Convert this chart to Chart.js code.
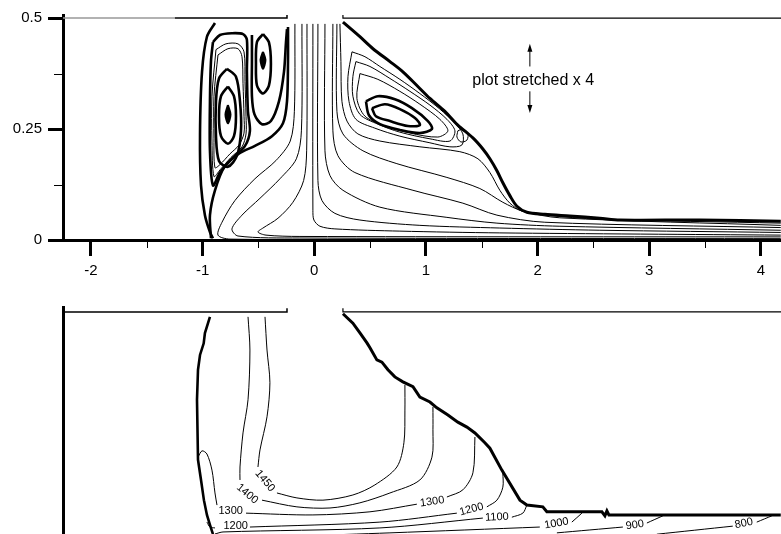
<!DOCTYPE html>
<html>
<head>
<meta charset="utf-8">
<script src="https://cdn.jsdelivr.net/npm/chart.js@4.4.0/dist/chart.umd.min.js"></script>
<style>
  body { margin: 0; background: #fff; overflow: hidden; width: 781px; height: 534px; position: relative; }
  #topChart { position: absolute; left: 0; top: 0; }
  #botChart { position: absolute; left: 0; top: 290px; }
</style>
</head>
<body>
<canvas id="topChart" width="781" height="290"></canvas>
<canvas id="botChart" width="781" height="260"></canvas>
<script>
// axis range (x = axial position, y = radial position, plot stretched x 4)
var xRange = [-2.25, 4.18];
var xMinor = [-1.5, -0.5, 0.5, 1.5, 2.5, 3.5];
var yMinor = [0.125, 0.375];

// walls (y = 0.5) with the jet opening between -0.25 and 0.25
var wallGrey = [[-2.25, 0.5], [-1.25, 0.5]];
var wallLeft = [[-1.25, 0.5], [-0.244, 0.5], [-0.244, 0.508]];
var wallRight = [[0.257, 0.508], [0.257, 0.5], [4.18, 0.5]];
var wallLeftBot = [[-2.25, 0.5], [-0.244, 0.5], [-0.244, 0.508]];

// ---- top panel: streamlines ----
var outerLeft = [[-0.889,0.489],[-0.961,0.458],[-1.005,0.379],[-1.023,0.239],[-1.014,0.123],[-0.979,0.056],[-0.934,0.018],[-0.907,0.004]];
var eddyOuter = [[-0.907,0.446],[-0.844,0.462],[-0.737,0.466],[-0.638,0.464],[-0.603,0.451],[-0.603,0.379],[-0.594,0.290],[-0.576,0.246],[-0.620,0.212],[-0.737,0.183],[-0.844,0.152],[-0.907,0.123],[-0.934,0.201],[-0.934,0.3125],[-0.925,0.402],[-0.907,0.446]];
var bundle1 = [[-0.880,0.429],[-0.791,0.442],[-0.683,0.442],[-0.629,0.424],[-0.620,0.357],[-0.611,0.279],[-0.611,0.239],[-0.647,0.210],[-0.746,0.186],[-0.844,0.158],[-0.898,0.143],[-0.916,0.223],[-0.916,0.324],[-0.880,0.429]];
var bundle2 = [[-0.862,0.417],[-0.773,0.431],[-0.683,0.431],[-0.647,0.413],[-0.638,0.353],[-0.629,0.279],[-0.629,0.241],[-0.674,0.214],[-0.755,0.194],[-0.844,0.170],[-0.889,0.163],[-0.898,0.228],[-0.898,0.324],[-0.862,0.417]];
var loop2 = [[-0.782,0.386],[-0.701,0.368],[-0.665,0.3125],[-0.656,0.246],[-0.692,0.190],[-0.773,0.165],[-0.853,0.178],[-0.880,0.234],[-0.880,0.3125],[-0.853,0.364],[-0.782,0.386]];
var loop3 = [[-0.773,0.346],[-0.719,0.324],[-0.701,0.279],[-0.719,0.234],[-0.773,0.217],[-0.835,0.234],[-0.853,0.279],[-0.835,0.324],[-0.773,0.346]];
var dotBig = [[-0.773,0.304],[-0.750,0.283],[-0.773,0.263],[-0.795,0.283],[-0.773,0.304]];
var uCurve = [[-0.558,0.462],[-0.558,0.402],[-0.558,0.324],[-0.535,0.283],[-0.468,0.261],[-0.388,0.268],[-0.316,0.3125],[-0.271,0.379],[-0.253,0.446],[-0.244,0.475]];
var smallRing = [[-0.459,0.464],[-0.406,0.446],[-0.388,0.397],[-0.406,0.348],[-0.459,0.330],[-0.513,0.348],[-0.522,0.397],[-0.513,0.446],[-0.459,0.464]];
var dotSmall = [[-0.459,0.424],[-0.437,0.406],[-0.459,0.386],[-0.481,0.406],[-0.459,0.424]];
var separatrix = [[-0.235,0.480],[-0.235,0.402],[-0.244,0.3125],[-0.280,0.263],[-0.379,0.234],[-0.531,0.212],[-0.665,0.196],[-0.799,0.167],[-0.889,0.112],[-0.934,0.056],[-0.925,0.004]];

var lineL3 = [[-0.173,0.487],[-0.178,0.290],[-0.215,0.223],[-0.343,0.179],[-0.531,0.138],[-0.710,0.089],[-0.826,0.040],[-0.862,0.011],[-0.755,0.002],[0.767,0.001],[4.178,0.001]];
var lineL2 = [[-0.110,0.487],[-0.115,0.246],[-0.160,0.183],[-0.307,0.138],[-0.486,0.094],[-0.647,0.056],[-0.737,0.025],[-0.683,0.009],[-0.128,0.0045],[4.178,0.003]];
var lineL1 = [[-0.065,0.487],[-0.068,0.201],[-0.095,0.134],[-0.191,0.085],[-0.325,0.049],[-0.459,0.027],[-0.504,0.018],[-0.432,0.011],[-0.128,0.008],[4.178,0.007]];
var lineC = [[-0.012,0.487],[-0.012,0.067],[-0.003,0.045],[0.051,0.031],[0.185,0.025],[0.767,0.020],[1.662,0.016],[4.178,0.011]];
var lineR5 = [[0.033,0.487],[0.033,0.134],[0.069,0.089],[0.185,0.060],[0.409,0.045],[0.946,0.033],[1.662,0.027],[2.558,0.022],[4.178,0.017]];
var lineR4 = [[0.096,0.487],[0.096,0.201],[0.141,0.145],[0.257,0.112],[0.588,0.074],[1.188,0.051],[1.636,0.038],[2.200,0.031],[4.178,0.022]];
var lineR3 = [[0.167,0.487],[0.167,0.246],[0.212,0.190],[0.364,0.152],[0.884,0.112],[1.331,0.083],[1.636,0.056],[2.065,0.040],[4.178,0.028]];
var lineR2 = [[0.203,0.487],[0.203,0.290],[0.257,0.239],[0.436,0.201],[0.740,0.172],[1.188,0.141],[1.483,0.116],[1.689,0.085],[1.868,0.065],[2.200,0.050],[4.178,0.033]];
var lineR1 = [[0.230,0.487],[0.239,0.402],[0.248,0.3125],[0.293,0.268],[0.391,0.239],[0.588,0.223],[0.946,0.210],[1.304,0.199],[1.466,0.183],[1.573,0.152],[1.662,0.112],[1.752,0.083],[1.859,0.065],[2.065,0.056],[2.558,0.047],[4.178,0.038]];

var flameTop = [[0.257,0.491],[0.409,0.458],[0.526,0.431],[0.678,0.402],[0.794,0.379],[0.928,0.346],[1.036,0.319],[1.170,0.290],[1.286,0.259],[1.421,0.230],[1.510,0.205],[1.573,0.183],[1.636,0.156],[1.689,0.129],[1.752,0.100],[1.815,0.076],[1.904,0.0625],[2.065,0.058],[2.289,0.054],[2.558,0.049],[2.737,0.045],[3.453,0.045],[4.178,0.042]];

var eddyR1 = [[0.338,0.424],[0.454,0.413],[0.588,0.391],[0.767,0.362],[0.946,0.330],[1.125,0.295],[1.260,0.263],[1.331,0.239],[1.322,0.214],[1.215,0.210],[1.036,0.219],[0.767,0.234],[0.543,0.252],[0.373,0.272],[0.311,0.3125],[0.302,0.368],[0.338,0.424]];
var eddyR2 = [[0.373,0.402],[0.499,0.391],[0.678,0.364],[0.857,0.335],[1.036,0.304],[1.188,0.272],[1.260,0.246],[1.215,0.223],[1.036,0.228],[0.767,0.243],[0.570,0.261],[0.409,0.283],[0.346,0.324],[0.346,0.368],[0.373,0.402]];
var eddyR3 = [[0.409,0.375],[0.570,0.362],[0.767,0.335],[0.946,0.306],[1.125,0.272],[1.197,0.246],[1.107,0.232],[0.857,0.241],[0.633,0.257],[0.454,0.279],[0.382,0.319],[0.409,0.375]];
var eddyR4 = [[0.463,0.3125],[0.570,0.324],[0.722,0.317],[0.875,0.297],[1.018,0.268],[1.054,0.250],[0.946,0.241],[0.767,0.248],[0.588,0.261],[0.490,0.281],[0.463,0.3125]];
var eddyR5 = [[0.517,0.297],[0.633,0.306],[0.767,0.295],[0.902,0.275],[0.946,0.259],[0.839,0.257],[0.678,0.268],[0.552,0.279],[0.517,0.297]];
var eddyR6 = [[1.286,0.246],[1.331,0.250],[1.376,0.241],[1.367,0.225],[1.313,0.221],[1.278,0.232],[1.286,0.246]];

// ---- bottom panel: temperature contours ----
var flameLeftBot = [[-0.934,0.489],[-0.979,0.453],[-0.990,0.430],[-1.023,0.404],[-1.041,0.371],[-1.050,0.304],[-1.041,0.170],[-1.014,0.125],[-0.988,0.080],[-0.961,0.047],[-0.934,0.025],[-0.907,0.004]];
var flameRightBot = [[0.257,0.496],[0.346,0.475],[0.409,0.453],[0.472,0.431],[0.499,0.420],[0.561,0.393],[0.606,0.388],[0.660,0.371],[0.722,0.355],[0.794,0.344],[0.884,0.333],[0.946,0.310],[1.036,0.299],[1.098,0.286],[1.197,0.270],[1.286,0.254],[1.367,0.243],[1.439,0.230],[1.528,0.208],[1.573,0.196],[1.680,0.147],[1.842,0.080],[1.904,0.069],[2.047,0.065],[2.083,0.054],[2.576,0.054],[2.603,0.045],[2.621,0.056],[2.639,0.047],[4.178,0.047]];

var c1450a = [[-0.441,0.489],[-0.423,0.415],[-0.397,0.342],[-0.423,0.266],[-0.486,0.192],[-0.504,0.154]];
var c1450b = [[-0.334,0.096],[-0.155,0.085],[0.078,0.080],[0.346,0.0915],[0.543,0.114],[0.740,0.154],[0.803,0.208],[0.812,0.281],[0.812,0.337]];
var c1400a = [[-0.593,0.489],[-0.576,0.415],[-0.593,0.304],[-0.638,0.230],[-0.665,0.154],[-0.665,0.125]];
var c1400b = [[-0.468,0.080],[-0.155,0.065],[0.141,0.0625],[0.409,0.074],[0.678,0.096],[0.946,0.125],[1.054,0.176],[1.063,0.237],[1.063,0.288]];
var c1300a = [[-1.041,0.176],[-1.005,0.190],[-0.961,0.183],[-0.916,0.147],[-0.889,0.096],[-0.871,0.069]];
var c1300b = [[-0.611,0.051],[-0.012,0.047],[0.499,0.054],[0.919,0.071]];
var c1300c = [[1.188,0.087],[1.331,0.103],[1.421,0.141],[1.439,0.221]];
var c1200a = [[-0.961,0.031],[-0.934,0.020],[-0.889,0.018]];
var c1200b = [[-0.576,0.020],[0.588,0.031],[1.277,0.051]];
var c1200c = [[1.546,0.065],[1.636,0.080],[1.689,0.109],[1.689,0.141]];
var c1100a = [[-0.889,0.0045],[-0.817,0.009],[0.588,0.018],[1.510,0.040]];
var c1100b = [[1.770,0.042],[1.868,0.051],[1.904,0.069]];
var c1000a = [[-0.128,0],[0.678,0.007],[2.020,0.020]];
var c1000b = [[2.307,0.031],[2.397,0.051]];
var c900a = [[2.173,0.007],[2.764,0.020]];
var c900b = [[2.979,0.029],[3.122,0.045]];
var c800a = [[3.068,0.004],[3.748,0.022]];
var c800b = [[3.963,0.031],[4.098,0.045]];

var labelText = ['1450', '1400', '1300', '1300', '1200', '1200', '1100', '1000', '900', '800'];
var labelX = [-0.441, -0.600, -0.748, 1.056, -0.704, 1.408, 1.636, 2.170, 2.871, 3.847];
var labelY = [0.123, 0.094, 0.056, 0.0766, 0.022, 0.0596, 0.042, 0.028, 0.0246, 0.028];
var labelAngle = [50, 40, 0, -8, 0, -15, -3, -10, -8, -12];

var noteText = 'plot stretched x 4';
var noteAt = [1.961, 0.359];
var arrowUp = [[1.931, 0.391], [1.931, 0.442]];
var arrowDown = [[1.931, 0.335], [1.931, 0.286]];

var family = '"Liberation Sans", Arial, Helvetica, sans-serif';

function stream(pts, width, extra) {
    var ds = {
        data: pts.map(function (p) { return { x: p[0], y: p[1] }; }),
        showLine: true,
        borderColor: '#000',
        borderWidth: width,
        pointRadius: 0,
        pointHoverRadius: 0,
        tension: 0.3,
        fill: false
    };
    if (extra) Object.assign(ds, extra);
    return ds;
}

var minorTicks = {
    id: 'minorTicks',
    afterDraw: function (chart) {
        var ctx = chart.ctx, xs = chart.scales.x, ys = chart.scales.y;
        ctx.save();
        ctx.strokeStyle = '#000';
        ctx.lineWidth = 1;
        xMinor.forEach(function (v) {
            var px = Math.round(xs.getPixelForValue(v)) + 0.5;
            ctx.beginPath(); ctx.moveTo(px, xs.top); ctx.lineTo(px, xs.top + 8); ctx.stroke();
        });
        yMinor.forEach(function (v) {
            var py = Math.round(ys.getPixelForValue(v)) + 0.5;
            ctx.beginPath(); ctx.moveTo(ys.right - 9, py); ctx.lineTo(ys.right, py); ctx.stroke();
        });
        ctx.restore();
    }
};

function drawArrow(ctx, xs, ys, seg) {
    var x0 = xs.getPixelForValue(seg[0][0]), y0 = ys.getPixelForValue(seg[0][1]);
    var x1 = xs.getPixelForValue(seg[1][0]), y1 = ys.getPixelForValue(seg[1][1]);
    var dir = y1 < y0 ? -1 : 1;
    ctx.beginPath(); ctx.moveTo(x0, y0); ctx.lineTo(x1, y1 - dir * 6); ctx.stroke();
    ctx.beginPath();
    ctx.moveTo(x1, y1); ctx.lineTo(x1 - 2.5, y1 - dir * 8); ctx.lineTo(x1 + 2.5, y1 - dir * 8);
    ctx.closePath(); ctx.fill();
}

var note = {
    id: 'note',
    afterDatasetsDraw: function (chart) {
        var ctx = chart.ctx, xs = chart.scales.x, ys = chart.scales.y;
        ctx.save();
        ctx.fillStyle = '#000'; ctx.strokeStyle = '#000'; ctx.lineWidth = 1;
        ctx.font = '16px ' + family;
        ctx.textAlign = 'center'; ctx.textBaseline = 'middle';
        ctx.fillText(noteText, xs.getPixelForValue(noteAt[0]), ys.getPixelForValue(noteAt[1]));
        drawArrow(ctx, xs, ys, arrowUp);
        drawArrow(ctx, xs, ys, arrowDown);
        ctx.restore();
    }
};

var contourLabels = {
    id: 'contourLabels',
    afterDatasetsDraw: function (chart) {
        var ctx = chart.ctx, xs = chart.scales.x, ys = chart.scales.y;
        ctx.save();
        ctx.fillStyle = '#000';
        ctx.font = '11px ' + family;
        ctx.textAlign = 'center'; ctx.textBaseline = 'middle';
        labelText.forEach(function (t, i) {
            ctx.save();
            ctx.translate(xs.getPixelForValue(labelX[i]), ys.getPixelForValue(labelY[i]));
            ctx.rotate(labelAngle[i] * Math.PI / 180);
            ctx.fillText(t, 0, 0);
            ctx.restore();
        });
        ctx.restore();
    }
};

var thin = 1, thick = 2.6;

var topChart = new Chart(document.getElementById('topChart'), {
    type: 'scatter',
    data: {
        datasets: [
            stream(wallGrey, 1.5, { borderColor: '#999', tension: 0 }),
            stream(wallLeft, 1.5, { tension: 0 }),
            stream(wallRight, 1.2, { tension: 0 }),
            stream(bundle1, thin), stream(bundle2, thin),
            stream(outerLeft, thick), stream(eddyOuter, thick),
            stream(loop2, thick), stream(loop3, thick),
            stream(dotBig, 2, { fill: 'shape', backgroundColor: '#000' }),
            stream(uCurve, thick), stream(smallRing, thick),
            stream(dotSmall, 2, { fill: 'shape', backgroundColor: '#000' }),
            stream(separatrix, thick),
            stream(lineL3, thin), stream(lineL2, thin), stream(lineL1, thin),
            stream(lineC, thin),
            stream(lineR5, thin), stream(lineR4, thin), stream(lineR3, thin),
            stream(lineR2, thin), stream(lineR1, thin),
            stream(eddyR1, thin), stream(eddyR2, thin), stream(eddyR3, thin),
            stream(eddyR4, thick), stream(eddyR5, thick), stream(eddyR6, thin),
            stream(flameTop, 3)
        ]
    },
    options: {
        responsive: false,
        animation: false,
        events: [],
        layout: { padding: { top: 13, right: 0, bottom: 0, left: 0 } },
        plugins: { legend: { display: false }, tooltip: { enabled: false } },
        scales: {
            x: {
                type: 'linear', position: 'bottom',
                min: xRange[0], max: xRange[1],
                afterFit: function (s) { s.height = 50; },
                border: { display: true, width: 3, color: '#000' },
                grid: { drawOnChartArea: false, tickLength: 16, tickWidth: 3, tickColor: '#000' },
                ticks: { stepSize: 1, includeBounds: false, autoSkip: false, maxRotation: 0,
                         color: '#000', padding: 6, font: { family: family, size: 15 },
                         callback: function (v) { return String(v); } }
            },
            y: {
                type: 'linear', position: 'left',
                min: 0, max: 0.507,
                afterFit: function (s) { s.width = 63; },
                border: { display: true, width: 3, color: '#000' },
                grid: { drawOnChartArea: false, tickLength: 15, tickWidth: 3, tickColor: '#000' },
                ticks: { stepSize: 0.25, includeBounds: false, color: '#000', padding: 6,
                         font: { family: family, size: 15 },
                         callback: function (v) { return String(v); } }
            }
        }
    },
    plugins: [minorTicks, note]
});

var botChart = new Chart(document.getElementById('botChart'), {
    type: 'scatter',
    data: {
        datasets: [
            stream(wallLeftBot, 1.5, { tension: 0 }),
            stream(wallRight, 1.2, { tension: 0 }),
            stream(flameLeftBot, 2.6, { tension: 0 }),
            stream(flameRightBot, 3, { tension: 0 }),
            stream(c1450a, thin), stream(c1450b, thin),
            stream(c1400a, thin), stream(c1400b, thin),
            stream(c1300a, thin), stream(c1300b, thin), stream(c1300c, thin),
            stream(c1200a, thin), stream(c1200b, thin), stream(c1200c, thin),
            stream(c1100a, thin), stream(c1100b, thin),
            stream(c1000a, thin), stream(c1000b, thin),
            stream(c900a, thin), stream(c900b, thin),
            stream(c800a, thin), stream(c800b, thin)
        ]
    },
    options: {
        responsive: false,
        animation: false,
        events: [],
        layout: { padding: { top: 17, right: 0, bottom: 14, left: 0 } },
        plugins: { legend: { display: false }, tooltip: { enabled: false } },
        scales: {
            x: { type: 'linear', display: false, min: xRange[0], max: xRange[1] },
            y: {
                type: 'linear', position: 'left',
                min: 0, max: 0.511,
                afterFit: function (s) { s.width = 63; },
                border: { display: true, width: 3, color: '#000' },
                grid: { display: false, drawTicks: false },
                ticks: { display: false }
            }
        }
    },
    plugins: [contourLabels]
});
</script>
</body>
</html>
